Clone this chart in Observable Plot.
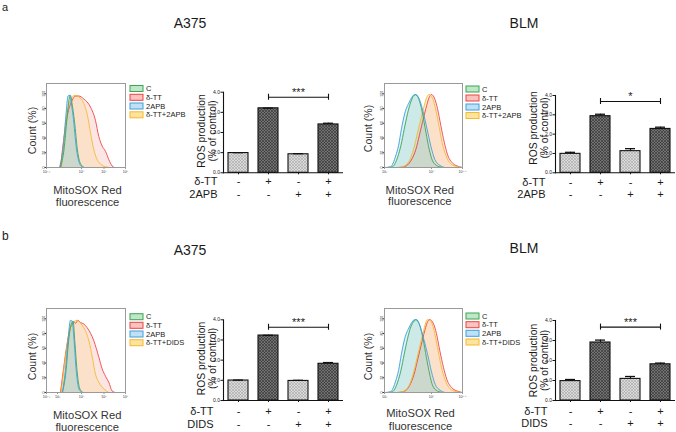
<!DOCTYPE html>
<html>
<head>
<meta charset="utf-8">
<script src="https://cdn.jsdelivr.net/npm/d3@7"></script>
<script src="https://cdn.jsdelivr.net/npm/@observablehq/plot@0.6"></script>
<style>
  html, body { margin: 0; padding: 0; background: #fff; }
  #fig { position: relative; width: 676px; height: 432px; overflow: hidden; background: #fff;
         font-family: "Liberation Sans", Arial, sans-serif; }
  .panel { position: absolute; }
  .panel svg { display: block; overflow: visible; }
  #overlay { position: absolute; left: 0; top: 0; pointer-events: none; }
</style>
</head>
<body>
<svg width="0" height="0" style="position:absolute">
  <defs>
    <pattern id="patLight" width="3" height="3" patternUnits="userSpaceOnUse">
      <rect width="3" height="3" fill="#dadada"></rect>
      <path d="M0,0L3,3M3,0L0,3" stroke="#a6a6a6" stroke-width="0.6"></path>
    </pattern>
    <pattern id="patDark" width="3" height="3" patternUnits="userSpaceOnUse">
      <rect width="3" height="3" fill="#727272"></rect>
      <path d="M0,0L3,3M3,0L0,3" stroke="#303030" stroke-width="0.6"></path>
    </pattern>
  </defs>
</svg>
<div id="fig"></div>
<script>
// ---------------- DATA ----------------
// Histogram curves: [log10 fluorescence, count %]
// Panel a, A375 (2APB)
const a375_2apb_C      = [[3.125,0],[3.27,24],[3.40,68],[3.48,92],[3.54,98],[3.60,88],[3.71,62],[3.83,24],[3.96,5],[4.13,0]];
const a375_2apb_dTT    = [[3.125,0],[3.26,38],[3.40,69],[3.61,91],[3.75,97],[3.89,97],[4.10,93],[4.40,82],[4.62,64],[4.77,42],[4.92,29],[5.07,22],[5.22,11],[5.38,2],[5.49,0]];
const a375_2apb_2APB   = [[3.08,0],[3.23,25],[3.35,70],[3.44,97],[3.52,98],[3.58,86],[3.65,70],[3.79,25],[3.94,4],[4.09,0]];
const a375_2apb_combo  = [[3.17,0],[3.26,33],[3.40,73],[3.54,91],[3.72,98],[3.88,96],[4.10,87],[4.27,70],[4.40,47],[4.55,24],[4.77,7],[5.07,1],[5.30,0]];
// Panel a, BLM (2APB)
const blm_2apb_C       = [[3.08,0],[3.17,1],[3.28,14],[3.35,30],[3.42,52],[3.49,73],[3.56,89],[3.63,98],[3.67,99],[3.74,91],[3.81,73],[3.88,48],[3.95,25],[4.05,9],[4.29,2],[4.53,0]];
const blm_2apb_dTT     = [[3.30,0],[3.42,1],[3.56,9],[3.67,25],[3.74,43],[3.81,62],[3.88,80],[3.95,95],[4.00,99],[4.16,93],[4.29,80],[4.45,57],[4.62,34],[4.77,18],[5.02,6],[5.35,1],[5.50,0]];
const blm_2apb_2APB    = [[3.02,0],[3.13,1],[3.24,16],[3.30,30],[3.36,52],[3.43,73],[3.53,89],[3.65,99],[3.74,93],[3.82,76],[3.91,51],[3.99,28],[4.16,11],[4.40,3],[4.65,0]];
const blm_2apb_combo   = [[3.26,0],[3.38,1],[3.53,9],[3.62,25],[3.69,43],[3.76,62],[3.83,80],[3.90,95],[3.95,99],[4.05,94],[4.21,78],[4.37,55],[4.53,32],[4.69,17],[4.93,5],[5.26,1],[5.42,0]];
// Panel b, A375 (DIDS)
const a375_dids_C      = [[3.21,0],[3.35,28],[3.47,72],[3.57,93],[3.65,97],[3.72,70],[3.82,28],[3.93,5],[4.07,0]];
const a375_dids_dTT    = [[3.125,0],[3.26,34],[3.40,66],[3.54,88],[3.61,92],[3.68,96],[3.75,94],[3.85,98],[3.96,95],[4.10,93],[4.25,88],[4.55,70],[4.77,48],[4.92,32],[5.07,22],[5.22,14],[5.38,2],[5.53,0]];
const a375_dids_2APB   = [[3.20,0],[3.33,30],[3.45,75],[3.54,98],[3.61,97],[3.68,75],[3.78,30],[3.89,5],[4.03,0]];
const a375_dids_combo  = [[3.15,0],[3.26,30],[3.40,64],[3.54,88],[3.68,96],[3.82,98],[3.96,94],[4.10,88],[4.33,70],[4.48,48],[4.62,25],[4.77,14],[4.99,5],[5.22,0]];
// Panel b, BLM (DIDS)
const blm_dids_C       = [[3.08,0],[3.17,1],[3.28,14],[3.35,30],[3.42,52],[3.49,73],[3.56,89],[3.63,97],[3.68,99],[3.75,91],[3.82,73],[3.89,48],[3.96,25],[4.06,9],[4.29,2],[4.53,0]];
const blm_dids_dTT     = [[3.28,0],[3.40,1],[3.53,9],[3.63,25],[3.70,43],[3.77,62],[3.84,80],[3.91,95],[3.96,99],[4.10,93],[4.24,80],[4.40,57],[4.58,34],[4.74,18],[5.00,6],[5.35,1],[5.50,0]];
const blm_dids_2APB    = [[3.02,0],[3.13,1],[3.24,16],[3.30,30],[3.36,52],[3.43,73],[3.53,89],[3.65,99],[3.74,93],[3.82,76],[3.92,51],[4.00,28],[4.18,11],[4.42,3],[4.65,0]];
const blm_dids_combo   = [[3.26,0],[3.38,1],[3.52,9],[3.61,25],[3.68,43],[3.75,62],[3.82,80],[3.88,95],[3.92,99],[4.02,94],[4.17,78],[4.33,55],[4.50,32],[4.66,17],[4.90,5],[5.20,1],[5.40,0]];

const legendNames2APB = ["C", "δ-TT", "2APB", "δ-TT+2APB"];
const legendNamesDIDS = ["C", "δ-TT", "2APB", "δ-TT+DIDS"];

// Bar charts: ROS production (% of control)
const conds = ["C", "δ-TT", "Inh", "δ-TT+Inh"];
const a375_2apb_ros = [0.98, 3.20, 0.92, 2.40];
const a375_2apb_err = [0.02, 0.01, 0.03, 0.06];
const blm_2apb_ros  = [0.98, 2.93, 1.12, 2.27];
const blm_2apb_err  = [0.08, 0.10, 0.13, 0.09];
const a375_dids_ros = [0.99, 3.22, 0.97, 1.82];
const a375_dids_err = [0.02, 0.01, 0.03, 0.06];
const blm_dids_ros  = [0.97, 2.90, 1.08, 1.81];
const blm_dids_err  = [0.08, 0.12, 0.12, 0.06];

const rowDTT  = ["-", "+", "-", "+"];
const rowInh  = ["-", "-", "+", "+"];
const sig_a375_2apb = "***";
const sig_blm_2apb  = "*";
const sig_a375_dids = "***";
const sig_blm_dids  = "***";

const histXTicksA = ["2.3", "4", "5", "6"];
const histXTicksA2 = ["2.3", "3", "4", "5", "6"];
const histXTicksB = ["3", "4", "5.5"];
const histYTicks = [0, 20, 40, 60, 80, 100];
const barYTicks = [0, 1, 2, 3, 4];

// ---------------- STYLE ----------------
const STROKE = ["#3aa655", "#ee4343", "#3f9fdc", "#f6b92b"];
const FILL   = ["#8fd3a0", "#f59d97", "#93c9ee", "#f9d57a"];
const LEGFILL = ["#bfe6c6", "#f9c3c0", "#bfe0f5", "#fde3a0"];
const FONT = '"Liberation Sans", Arial, sans-serif';
const fig = document.getElementById("fig");

const SUP = {"0":"⁰","1":"¹","2":"²","3":"³","4":"⁴","5":"⁵","6":"⁶","7":"⁷","8":"⁸","9":"⁹",".":"·"};
const fmtExp = e => "10" + String(e).split("").map(c => SUP[c] || c).join("");

function place(el, left, top) {
  const d = document.createElement("div");
  d.className = "panel";
  d.style.left = left + "px";
  d.style.top = top + "px";
  d.appendChild(el);
  fig.appendChild(d);
}

function histPanel(cfg, curves) {
  const [fx1, fx2, fy1, fy2] = cfg.frame;
  const mL = fx1 - cfg.left, mR = cfg.left + cfg.width - fx2;
  const mT = fy1 - cfg.top, mB = cfg.top + cfg.height - fy2;
  const at = (str, px, py, o) => Plot.text([str], {frameAnchor: "top-left", dx: px - fx1, dy: py - fy1, text: d => d, ...o});
  const order = [1, 3, 0, 2];
  const marks = [];
  for (const i of order) marks.push(Plot.areaY(curves[i], {x: d => d[0], y: d => d[1], fill: FILL[i], fillOpacity: 0.26, curve: "monotone-x"}));
  for (const i of order) marks.push(Plot.lineY(curves[i], {x: d => d[0], y: d => d[1], stroke: STROKE[i], strokeWidth: 0.9, curve: "monotone-x"}));
  marks.push(Plot.frame({stroke: "#9a9a9a", strokeWidth: 1}));
  marks.push(at("Count (%)", cfg.count[0], cfg.count[1], {rotate: -90, fontSize: 10.5, textAnchor: "middle", lineAnchor: "middle"}));
  marks.push(at("MitoSOX Red", cfg.mitoX, cfg.mitoBase[0], {fontSize: 11.2, textAnchor: "middle", lineAnchor: "bottom"}));
  marks.push(at("fluorescence", cfg.mitoX, cfg.mitoBase[1], {fontSize: 11.2, textAnchor: "middle", lineAnchor: "bottom"}));
  return Plot.plot({
    width: cfg.width, height: cfg.height,
    marginLeft: mL, marginRight: mR, marginTop: mT, marginBottom: mB,
    x: {type: "linear", domain: cfg.xDomain, range: cfg.xPix.map(p => p - cfg.left),
        ticks: cfg.xTicks.map(Number), tickFormat: e => fmtExp(cfg.xTicks.find(t => +t === e)),
        tickSize: 1.5, tickPadding: 1, label: null},
    y: {domain: [0, 114], ticks: histYTicks, tickSize: 1.5, tickPadding: 0.5, tickRotate: -90, label: null},
    style: {fontFamily: FONT, fontSize: "3.6px", color: "#333", background: "transparent", overflow: "visible"},
    marks
  });
}

function barPanel(cfg, values, errs, rowNames, rows, sigLabel) {
  const fx = cfg.axisX, fy = cfg.fourY;
  const mL = fx - cfg.left, mR = cfg.left + cfg.width - (fx + 120);
  const mT = fy - cfg.top, mB = cfg.top + cfg.height - cfg.zeroY;
  const pxPerUnit = (cfg.zeroY - cfg.fourY) / 4;
  const cap = 3 / pxPerUnit;
  const lvl = cfg.sigLevel;
  const data = conds.map((c, i) => ({c, v: values[i], e: errs[i], dark: rows[0][i] === "+"}));
  const at = (str, px, py, o) => Plot.text([str], {frameAnchor: "top-left", dx: px - fx, dy: py - fy, text: d => d, ...o});
  const marks = [
    Plot.barY(data.filter(d => !d.dark), {x: "c", y: "v", fill: "url(#patLight)", stroke: "#111", strokeWidth: 1.1}),
    Plot.barY(data.filter(d => d.dark), {x: "c", y: "v", fill: "url(#patDark)", stroke: "#111", strokeWidth: 1.1}),
    Plot.ruleX(data, {x: "c", y1: "v", y2: d => d.v + d.e, stroke: "#111", strokeWidth: 1.1}),
    Plot.tickY(data, {x: "c", y: d => d.v + d.e, insetLeft: 5, insetRight: 5, stroke: "#111", strokeWidth: 1.3}),
    Plot.ruleY([0], {stroke: "#111", strokeWidth: 1.1}),
    Plot.frame({anchor: "left", stroke: "#111", strokeWidth: 1.1}),
    Plot.link([sigLabel], {x1: () => conds[1], x2: () => conds[3], y1: () => lvl, y2: () => lvl, stroke: "#111", strokeWidth: 1.1}),
    Plot.ruleX([conds[1], conds[3]], {x: d => d, y1: () => lvl - cap, y2: () => lvl + cap, stroke: "#111", strokeWidth: 1.1}),
    Plot.text([sigLabel], {x: () => conds[2], y: () => lvl, text: d => d, dy: -1, lineAnchor: "bottom", fontSize: 11}),
    ...rows.map((r, k) => Plot.text(data, {x: "c", text: (d, i) => r[i], frameAnchor: "bottom", dy: cfg.rowBase[k] - cfg.zeroY, lineAnchor: "bottom", fontSize: 11})),
    ...rowNames.map((n, k) => at(n, cfg.rowRight, cfg.rowBase[k], {textAnchor: "end", lineAnchor: "bottom", fontSize: 11})),
    at("ROS production", fx - 22, cfg.yLabY, {rotate: -90, fontSize: 10.3, textAnchor: "middle", lineAnchor: "middle"}),
    at("(% of control)", fx - 11, cfg.yLabY, {rotate: -90, fontSize: 10.3, textAnchor: "middle", lineAnchor: "middle"})
  ];
  return Plot.plot({
    width: cfg.width, height: cfg.height,
    marginLeft: mL, marginRight: mR, marginTop: mT, marginBottom: mB,
    x: {type: "band", domain: conds, paddingInner: 1/3, paddingOuter: 1/6, align: 0.5, tickSize: 2, tickFormat: () => "", label: null},
    y: {domain: [0, 4], ticks: barYTicks, tickSize: 2.5, tickPadding: 1, label: null},
    style: {fontFamily: FONT, fontSize: "5px", color: "#1a1a1a", background: "transparent", overflow: "visible"},
    marks
  });
}

// ---------------- PANELS ----------------
const hA1 = {left: 20, top: 78, width: 110, height: 135, frame: [46, 125, 83, 167], xDomain: [2.3, 3, 4, 5, 6], xPix: [46, 57, 81, 103.5, 125], xTicks: histXTicksA, count: [32, 130], mitoX: 87, mitoBase: [193.3, 205]};
const hB1 = {left: 357, top: 78, width: 110, height: 135, frame: [384, 462, 83, 167], xDomain: [3, 4, 5.5], xPix: [384, 431, 462], xTicks: histXTicksB, count: [367.7, 128], mitoX: 419.3, mitoBase: [193.3, 204.5]};
const hA2 = {left: 20, top: 303, width: 110, height: 129, frame: [46, 125, 308, 392], xDomain: [2.3, 3, 4, 5, 6], xPix: [46, 57, 81, 103.5, 125], xTicks: histXTicksA2, count: [31.7, 356], mitoX: 86.7, mitoBase: [418.3, 430]};
const hB2 = {left: 357, top: 303, width: 110, height: 129, frame: [384, 462, 308, 392], xDomain: [3, 4, 5.5], xPix: [384, 431, 462], xTicks: histXTicksB, count: [367.7, 356], mitoX: 420, mitoBase: [416.7, 429]};

place(histPanel(hA1, [a375_2apb_C, a375_2apb_dTT, a375_2apb_2APB, a375_2apb_combo]), hA1.left, hA1.top);
place(histPanel(hB1, [blm_2apb_C, blm_2apb_dTT, blm_2apb_2APB, blm_2apb_combo]), hB1.left, hB1.top);
place(histPanel(hA2, [a375_dids_C, a375_dids_dTT, a375_dids_2APB, a375_dids_combo]), hA2.left, hA2.top);
place(histPanel(hB2, [blm_dids_C, blm_dids_dTT, blm_dids_2APB, blm_dids_combo]), hB2.left, hB2.top);

const bA1 = {left: 185, top: 78, width: 160, height: 135, axisX: 223, zeroY: 172.3, fourY: 91.7, rowBase: [184.5, 197], rowRight: 217, sigLevel: 3.75, yLabY: 130.5};
const bB1 = {left: 515, top: 78, width: 160, height: 135, axisX: 555, zeroY: 172.3, fourY: 95, rowBase: [185, 197], rowRight: 545, sigLevel: 3.69, yLabY: 127.5};
const bA2 = {left: 185, top: 306, width: 160, height: 126, axisX: 223, zeroY: 400, fourY: 319.3, rowBase: [414, 427.3], rowRight: 213, sigLevel: 3.63, yLabY: 358};
const bB2 = {left: 515, top: 306, width: 160, height: 126, axisX: 555, zeroY: 400, fourY: 320, rowBase: [414, 426.7], rowRight: 547, sigLevel: 3.67, yLabY: 360};

place(barPanel(bA1, a375_2apb_ros, a375_2apb_err, ["δ-TT", "2APB"], [rowDTT, rowInh], sig_a375_2apb), bA1.left, bA1.top);
place(barPanel(bB1, blm_2apb_ros, blm_2apb_err, ["δ-TT", "2APB"], [rowDTT, rowInh], sig_blm_2apb), bB1.left, bB1.top);
place(barPanel(bA2, a375_dids_ros, a375_dids_err, ["δ-TT", "DIDS"], [rowDTT, rowInh], sig_a375_dids), bA2.left, bA2.top);
place(barPanel(bB2, blm_dids_ros, blm_dids_err, ["δ-TT", "DIDS"], [rowDTT, rowInh], sig_blm_dids), bB2.left, bB2.top);

// ---------------- TITLES & LEGENDS ----------------
const ov = d3.select(fig).append("svg").attr("id", "overlay").attr("width", 676).attr("height", 432)
  .style("font-family", FONT).style("fill", "#1a1a1a");
const titles = [
  {t: "a", x: 2, y: 10.5, s: 11, a: "start"},
  {t: "A375", x: 190, y: 28.3, s: 14, a: "middle"},
  {t: "BLM", x: 524, y: 28.3, s: 14, a: "middle"},
  {t: "b", x: 2, y: 240, s: 12, a: "start"},
  {t: "A375", x: 190, y: 255, s: 14, a: "middle"},
  {t: "BLM", x: 524, y: 252.5, s: 14, a: "middle"}
];
for (const d of titles) ov.append("text").attr("x", d.x).attr("y", d.y).attr("font-size", d.s).attr("text-anchor", d.a).text(d.t);

function legend(x, rowsY, names) {
  names.forEach((n, i) => {
    ov.append("rect").attr("x", x).attr("y", rowsY[i] - 3).attr("width", 13).attr("height", 6)
      .attr("fill", LEGFILL[i]).attr("stroke", STROKE[i]).attr("stroke-width", 1);
    ov.append("text").attr("x", x + 16).attr("y", rowsY[i]).attr("dy", "0.35em").attr("font-size", 7.5).text(n);
  });
}
legend(130, [88.5, 97.3, 106, 114.8], legendNames2APB);
legend(466, [89, 98, 107, 115.5], legendNames2APB);
legend(130, [316.7, 325.3, 334, 342.7], legendNamesDIDS);
legend(466, [316, 324.7, 333.3, 342], legendNamesDIDS);
</script>
</body>
</html>
